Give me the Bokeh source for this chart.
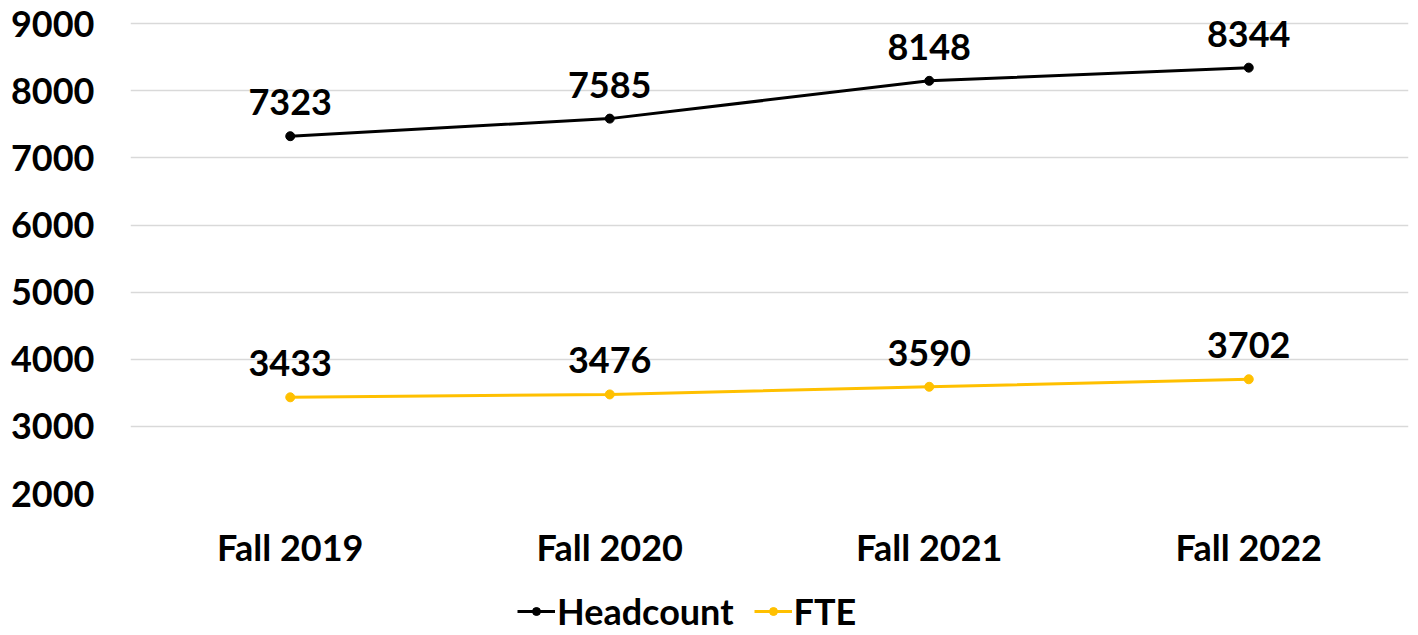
from bokeh.plotting import figure
from bokeh.layouts import column
from bokeh.models import ColumnDataSource, FactorRange, Range1d, LabelSet, Legend, LegendItem, SingleIntervalTicker
from bokeh.core.properties import value
from bokeh.embed import file_html
from bokeh.resources import INLINE

categories = ["Fall 2019", "Fall 2020", "Fall 2021", "Fall 2022"]
headcount = [7323, 7585, 8148, 8344]
fte = [3433, 3476, 3590, 3702]
series_names = ["Headcount", "FTE"]
series_colors = ["black", "#FFC000"]

FONT = "Lato"
FS = "36px"

src_h = ColumnDataSource(dict(x=categories, y=headcount, t=[str(v) for v in headcount]))
src_f = ColumnDataSource(dict(x=categories, y=fte, t=[str(v) for v in fte]))
sources = [src_h, src_f]

# frame extends 300 units above the 9000 gridline so the top data labels are not clipped
p = figure(frame_width=1278, frame_height=490, x_range=FactorRange(*categories, range_padding=0),
           y_range=Range1d(2000, 9300), output_backend="svg", toolbar_location=None,
           min_border_left=130, min_border_right=1, min_border_top=3, min_border_bottom=0)
p.outline_line_color = None
p.xgrid.grid_line_color = None
p.ygrid.grid_line_color = "#D9D9D9"
p.ygrid.grid_line_width = 1.5
p.yaxis.ticker = SingleIntervalTicker(interval=1000)

for ax in (p.xaxis[0], p.yaxis[0]):
    ax.axis_line_color = None
    ax.major_tick_line_color = None
    ax.minor_tick_line_color = None
    ax.major_label_text_font = FONT
    ax.major_label_text_font_style = "bold"
    ax.major_label_text_font_size = FS
    ax.major_label_text_color = "black"
p.yaxis.major_label_standoff = 30
p.xaxis.major_label_standoff = 25

for s, c in zip(sources, series_colors):
    p.line("x", "y", source=s, line_color=c, line_width=3)
    p.scatter("x", "y", source=s, size=9, color=c)
    p.add_layout(LabelSet(x="x", y="y", text="t", source=s, y_offset=21,
                          text_align="center", text_baseline="bottom",
                          text_font=value(FONT), text_font_style="bold", text_font_size=FS,
                          text_color="black"))

# legend strip (same series; its y-range shows none of the data, only the legend)
lg = figure(width=1409, height=66, x_range=FactorRange(*categories, range_padding=0),
            y_range=Range1d(0, 1), x_axis_type=None, y_axis_type=None,
            output_backend="svg", toolbar_location=None, min_border=0)
lg.outline_line_color = None
lg.xgrid.visible = False
lg.ygrid.visible = False
items = []
for name, s, c in zip(series_names, sources, series_colors):
    r1 = lg.line("x", "y", source=s, line_color=c, line_width=3)
    r2 = lg.scatter("x", "y", source=s, size=9, color=c)
    items.append(LegendItem(label=name, renderers=[r1, r2], index=0))
legend = Legend(items=items, orientation="horizontal", location=(387, 4),
                label_text_font=FONT, label_text_font_style="bold", label_text_font_size=FS,
                label_text_color="black",
                glyph_width=38, glyph_height=20, spacing=20, label_standoff=2,
                border_line_color=None, background_fill_alpha=0, padding=0, margin=0)
lg.add_layout(legend, "center")

layout = column(p, lg, spacing=0)
open("out.html", "w").write(file_html(layout, INLINE))
